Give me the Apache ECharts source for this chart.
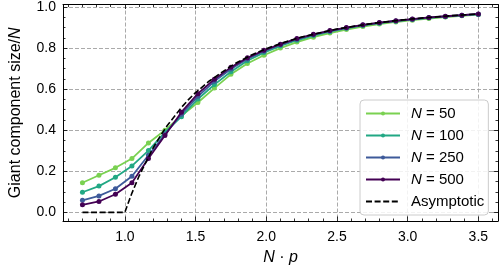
<!DOCTYPE html>
<html><head><meta charset="utf-8">
<script src="https://cdn.jsdelivr.net/npm/echarts@6/dist/echarts.min.js"></script>
<style>html,body{margin:0;padding:0;background:#fff}#c{width:499px;height:271px}</style>
</head><body><div id="c"></div>
<script>
const xValues = [0.7, 0.8167, 0.9333, 1.05, 1.1667, 1.2833, 1.4, 1.5167, 1.6333, 1.75, 1.8667, 1.9833, 2.1, 2.2167, 2.3333, 2.45, 2.5667, 2.6833, 2.8, 2.9167, 3.0333, 3.15, 3.2667, 3.3833, 3.5];
const n50  = [0.144, 0.181, 0.217, 0.262, 0.338, 0.400, 0.470, 0.535, 0.605, 0.672, 0.725, 0.765, 0.800, 0.829, 0.853, 0.873, 0.890, 0.905, 0.917, 0.927, 0.936, 0.944, 0.951, 0.957, 0.963];
const n100 = [0.098, 0.128, 0.171, 0.226, 0.301, 0.390, 0.466, 0.552, 0.622, 0.685, 0.738, 0.778, 0.810, 0.838, 0.861, 0.880, 0.896, 0.910, 0.921, 0.931, 0.939, 0.947, 0.953, 0.959, 0.964];
const n250 = [0.059, 0.080, 0.115, 0.176, 0.278, 0.380, 0.478, 0.565, 0.638, 0.698, 0.747, 0.785, 0.816, 0.843, 0.865, 0.883, 0.898, 0.912, 0.923, 0.932, 0.940, 0.948, 0.954, 0.960, 0.965];
const n500 = [0.037, 0.053, 0.088, 0.144, 0.262, 0.374, 0.488, 0.578, 0.648, 0.706, 0.753, 0.789, 0.819, 0.846, 0.867, 0.885, 0.900, 0.913, 0.924, 0.933, 0.941, 0.949, 0.955, 0.960, 0.966];
const asymX = [0.7, 1.0, 1.02, 1.05, 1.1, 1.15, 1.2, 1.25, 1.3, 1.35, 1.4, 1.45, 1.5, 1.6, 1.75, 1.8, 1.9, 2.0, 2.1, 2.25, 2.5, 2.75, 3.0, 3.25, 3.5];
const asymY = [0, 0, 0.039, 0.094, 0.176, 0.246, 0.314, 0.371, 0.423, 0.467, 0.511, 0.549, 0.583, 0.641, 0.712, 0.732, 0.768, 0.797, 0.822, 0.854, 0.893, 0.920, 0.940, 0.955, 0.966];
const seriesNames = ['N = 50', 'N = 100', 'N = 250', 'N = 500'];
const asymName = 'Asymptotic';
const xTicks = [1.0, 1.5, 2.0, 2.5, 3.0, 3.5];
const xMinorTicks = [0.6, 0.7, 0.8, 0.9, 1.1, 1.2, 1.3, 1.4, 1.6, 1.7, 1.8, 1.9, 2.1, 2.2, 2.3, 2.4, 2.6, 2.7, 2.8, 2.9, 3.1, 3.2, 3.3, 3.4, 3.6];
const yTicks = [0.0, 0.2, 0.4, 0.6, 0.8, 1.0];
const yMinorTicks = [0.05, 0.1, 0.15, 0.25, 0.3, 0.35, 0.45, 0.5, 0.55, 0.65, 0.7, 0.75, 0.85, 0.9, 0.95];

const colors = ['#7ad151', '#22a884', '#3e5a9a', '#440154'];
const FONT = 'Liberation Sans, Arial, sans-serif';
const X_MIN = 0.5625, X_MAX = 3.639, Y_MIN = -0.042, Y_MAX = 1.012;
const TICK_FS = 14, NAME_FS = 16, LEG_FS = 15;

function xAxisDef(pos, major) {
  return {
    type: 'value', position: pos, min: X_MIN, max: X_MAX,
    axisLine: { show: major, onZero: false, lineStyle: { color: '#000', width: 1 } },
    axisTick: { show: true, inside: true, length: major ? 4.5 : 2.5, customValues: major ? xTicks : xMinorTicks, lineStyle: { color: '#000', width: 0.8 } },
    axisLabel: { show: major && pos === 'bottom', customValues: xTicks, margin: 9, color: '#000', fontSize: TICK_FS, fontFamily: FONT, formatter: v => v.toFixed(1) },
    splitLine: { show: major && pos === 'bottom', lineStyle: { color: '#a0a0a0', width: 0.9, type: [4, 2] } },
    minorTick: { show: false },
    name: (major && pos === 'bottom') ? '{i|N} · {i|p}' : '',
    nameLocation: 'middle', nameGap: 29,
    nameTextStyle: { color: '#000', fontSize: NAME_FS, fontFamily: FONT, rich: { i: { fontStyle: 'italic', fontSize: NAME_FS, fontFamily: FONT, color: '#000' } } }
  };
}
function yAxisDef(pos, major) {
  return {
    type: 'value', position: pos, min: Y_MIN, max: Y_MAX,
    axisLine: { show: major, onZero: false, lineStyle: { color: '#000', width: 1 } },
    axisTick: { show: true, inside: true, length: major ? 4.5 : 2.5, customValues: major ? yTicks : yMinorTicks, lineStyle: { color: '#000', width: 0.8 } },
    axisLabel: { show: major && pos === 'left', customValues: yTicks, margin: 7, color: '#000', fontSize: TICK_FS, fontFamily: FONT, formatter: v => v.toFixed(1) },
    splitLine: { show: major && pos === 'left', lineStyle: { color: '#a0a0a0', width: 0.9, type: [4, 2] } },
    minorTick: { show: false },
    name: (major && pos === 'left') ? '{a|Giant component size/}{i|N}' : '',
    nameLocation: 'middle', nameGap: 39,
    nameTextStyle: { color: '#000', fontSize: NAME_FS, fontFamily: FONT, rich: { a: { fontSize: NAME_FS, fontFamily: FONT, color: '#000' }, i: { fontStyle: 'italic', fontSize: NAME_FS, fontFamily: FONT, color: '#000' } } }
  };
}

const nSeries = [n50, n100, n250, n500].map((arr, k) => ({
  name: seriesNames[k], type: 'line', xAxisIndex: 0, yAxisIndex: 0,
  data: xValues.map((x, i) => [x, arr[i]]),
  symbol: 'circle', symbolSize: 5, showSymbol: true,
  lineStyle: { width: 1.8, color: colors[k] }, itemStyle: { color: colors[k] },
  animation: false, z: 2 + k
}));
const asymSeries = {
  name: asymName, type: 'line', xAxisIndex: 0, yAxisIndex: 0,
  data: asymX.map((x, i) => [x, asymY[i]]),
  symbol: 'none', lineStyle: { width: 1.6, color: '#000', type: [6, 2.6] }, itemStyle: { color: '#000' },
  animation: false, z: 10
};

const legendData = seriesNames.map(n => ({ name: n })).concat([
  { name: asymName, itemStyle: { color: 'rgba(0,0,0,0)', borderWidth: 0 } }
]);

const chart = echarts.init(document.getElementById('c'), null, { renderer: 'canvas' });
chart.setOption({
  animation: false,
  backgroundColor: '#fff',
  grid: { left: 55, top: 3, width: 443, height: 219, containLabel: false },
  xAxis: [xAxisDef('bottom', true), xAxisDef('bottom', false), xAxisDef('top', true), xAxisDef('top', false)],
  yAxis: [yAxisDef('left', true), yAxisDef('left', false), yAxisDef('right', true), yAxisDef('right', false)],
  legend: {
    data: legendData,
    orient: 'vertical', left: 360, top: 100,
    padding: [6, 4, 6, 5], itemGap: 7, itemWidth: 34, itemHeight: 5,
    backgroundColor: 'rgba(255,255,255,0.85)', borderColor: '#cccccc', borderWidth: 1, borderRadius: 4,
    formatter: name => name.startsWith('N') ? '{i|N}' + name.slice(1) : name,
    textStyle: { color: '#000', fontSize: LEG_FS, fontFamily: FONT, padding: [0, 0, 0, 6],
      rich: { i: { fontStyle: 'italic', fontSize: LEG_FS, fontFamily: FONT, color: '#000' } } }
  },
  series: nSeries.concat([asymSeries])
});
</script></body></html>
